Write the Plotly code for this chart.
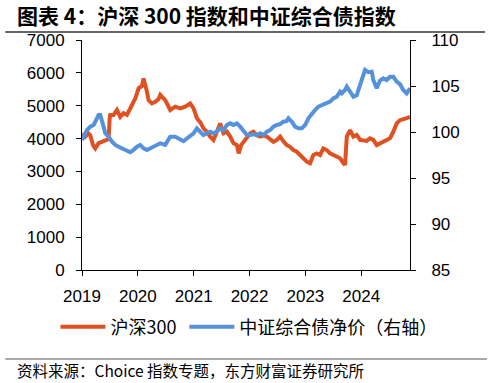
import plotly.graph_objects as go

# ---- data (x in decimal years) ----
csi300_t = [0.000, 0.059, 0.113, 0.148, 0.197, 0.238, 0.297, 0.358, 0.417, 0.476, 0.495, 0.506,
            0.565, 0.626, 0.685, 0.744, 0.805, 0.864, 0.923, 0.954, 1.013, 1.073, 1.102, 1.132,
            1.163, 1.191, 1.252, 1.311, 1.370, 1.401, 1.490, 1.580, 1.669, 1.759, 1.848, 1.938,
            1.997, 2.057, 2.116, 2.175, 2.236, 2.295, 2.354, 2.415, 2.474, 2.533, 2.594, 2.653,
            2.712, 2.773, 2.805, 2.850, 2.891, 2.952, 3.011, 3.070, 3.131, 3.190, 3.249, 3.310,
            3.369, 3.428, 3.488, 3.547, 3.606, 3.667, 3.726, 3.785, 3.846, 3.905, 3.964, 4.025,
            4.084, 4.143, 4.204, 4.263, 4.322, 4.383, 4.442, 4.501, 4.562, 4.621, 4.680, 4.710,
            4.741, 4.800, 4.859, 4.919, 4.979, 5.038, 5.098, 5.157, 5.216, 5.277, 5.336, 5.395,
            5.456, 5.515, 5.574, 5.635, 5.694, 5.753, 5.814, 5.873]
csi300_v = [4150, 4060, 4160, 4100, 3800, 3700, 3860, 3900, 3960, 3980, 4600, 4720,
            4720, 4870, 4660, 4770, 4720, 4920, 5070, 5220, 5530, 5600, 5830, 5680,
            5430, 5170, 5070, 5120, 5200, 5330, 5170, 4870, 4970, 4920, 4970, 5070,
            4920, 4620, 4500, 4310, 4210, 4060, 3960, 4210, 4460, 4160, 4210, 4060,
            3860, 3800, 3550, 3800, 3900, 4010, 4160, 4210, 4100, 4060, 4100, 4060,
            3960, 3900, 3960, 4060, 3920, 3800, 3750, 3650, 3600, 3500, 3400, 3300,
            3250, 3500, 3550, 3500, 3700, 3650, 3550, 3500, 3450, 3400, 3250, 3200,
            4060, 4260, 4060, 4110, 3960, 3930, 3930, 4010, 3960, 3800, 3850, 3900,
            3960, 4010, 4210, 4460, 4560, 4580, 4620, 4660]

bond_t = [0.000, 0.029, 0.089, 0.148, 0.208, 0.268, 0.297, 0.327, 0.358, 0.386, 0.417, 0.476,
          0.537, 0.596, 0.655, 0.716, 0.775, 0.864, 0.923, 0.984, 1.043, 1.102, 1.163, 1.222,
          1.281, 1.342, 1.401, 1.490, 1.580, 1.669, 1.759, 1.818, 1.878, 1.997, 2.057, 2.116,
          2.175, 2.236, 2.295, 2.354, 2.415, 2.474, 2.533, 2.594, 2.653, 2.712, 2.773, 2.833,
          2.891, 2.952, 3.011, 3.070, 3.131, 3.190, 3.249, 3.310, 3.369, 3.428, 3.488, 3.547,
          3.606, 3.667, 3.696, 3.757, 3.816, 3.875, 3.936, 3.995, 4.054, 4.114, 4.173, 4.233,
          4.293, 4.352, 4.442, 4.501, 4.562, 4.621, 4.651, 4.710, 4.741, 4.800, 4.859, 4.919,
          4.979, 5.038, 5.068, 5.127, 5.188, 5.216, 5.277, 5.336, 5.395, 5.456, 5.515, 5.574,
          5.635, 5.694, 5.753, 5.814, 5.873]
bond_v = [99.13, 99.49, 100.20, 100.58, 100.76, 101.49, 101.85, 101.85, 101.30, 100.58, 99.86, 99.49,
          98.95, 98.59, 98.40, 98.22, 98.04, 97.80, 98.04, 98.40, 98.59, 98.22, 98.04, 98.22,
          98.40, 98.59, 98.77, 98.60, 99.49, 99.49, 99.13, 99.00, 99.30, 99.86, 100.40, 100.10,
          99.67, 99.86, 100.04, 99.86, 100.04, 100.40, 100.20, 100.76, 100.94, 100.76, 100.94, 100.58,
          100.20, 99.67, 99.67, 99.76, 99.67, 99.86, 99.67, 100.04, 100.20, 100.58, 100.76, 100.85,
          101.12, 101.20, 101.49, 101.12, 100.58, 100.40, 100.40, 100.76, 101.49, 102.03, 102.39, 102.75,
          102.93, 103.10, 103.30, 103.66, 103.84, 104.38, 104.20, 104.57, 104.93, 104.40, 103.84, 104.00,
          105.10, 106.00, 106.74, 106.50, 106.55, 105.65, 104.75, 105.60, 105.83, 105.65, 106.00, 106.00,
          105.47, 105.20, 104.57, 104.20, 104.75]

start_year = 2019
year_ticks = [2019, 2020, 2021, 2022, 2023, 2024]
year_labels = ["2019", "2020", "2021", "2022", "2023", "2024"]
left_ticks = [0, 1000, 2000, 3000, 4000, 5000, 6000, 7000]
right_ticks = [85, 90, 95, 100, 105, 110]

RED = "#DF5120"
BLUE = "#5592DB"
FONT = "Liberation Sans, Arial, Noto Sans CJK SC, sans-serif"
CJK = "Noto Sans CJK SC, Liberation Sans, sans-serif"

fig = go.Figure()
fig.add_trace(go.Scatter(x=[start_year + t for t in csi300_t], y=csi300_v, mode="lines",
                         name="沪深300", legend="legend", line=dict(color=RED, width=4)))
fig.add_trace(go.Scatter(x=[start_year + t for t in bond_t], y=bond_v, mode="lines",
                         name="中证综合债净价（右轴）", yaxis="y2", legend="legend2",
                         line=dict(color=BLUE, width=4)))

axis_common = dict(showgrid=False, zeroline=False, showline=True, linecolor="black", linewidth=1,
                   ticks="outside", ticklen=5, tickcolor="black", tickwidth=1,
                   tickfont=dict(family=FONT, size=17, color="black"), automargin=False)

leg_common = dict(orientation="h", yanchor="middle", y=-0.248, xanchor="left",
                  font=dict(family=CJK, size=18, color="black"), itemwidth=45,
                  bgcolor="rgba(0,0,0,0)", borderwidth=0)

fig.update_layout(
    width=492, height=383,
    margin=dict(l=82, r=82, t=40, b=113, autoexpand=False),
    paper_bgcolor="white", plot_bgcolor="white",
    title=dict(text="<b>图表 4：沪深 300 指数和中证综合债指数</b>", xref="container", yref="container",
               x=17 / 492, xanchor="left", y=1 - 17 / 383, yanchor="middle",
               font=dict(family=CJK, size=21, color="black")),
    showlegend=True,
    legend=dict(x=-0.081, **leg_common),
    legend2=dict(x=0.312, **leg_common),
    xaxis=dict(range=[2019, 2019 + 5.873], tickvals=year_ticks, ticktext=year_labels,
               ticklabelstandoff=6, **axis_common),
    yaxis=dict(range=[0, 7000], tickvals=left_ticks, ticklabelstandoff=8, **axis_common),
    yaxis2=dict(range=[85, 110], tickvals=right_ticks, overlaying="y", side="right",
                ticklabelstandoff=12, **axis_common),
)

# title rule
fig.add_shape(type="line", xref="paper", yref="paper", x0=-0.234, x1=1.229, y0=1.035, y1=1.035,
              line=dict(color="#333333", width=1.5))
# source
fig.add_shape(type="line", xref="paper", yref="paper", x0=-0.234, x1=1.235, y0=-0.387, y1=-0.387,
              line=dict(color="#555555", width=1.2))
fig.add_annotation(xref="paper", yref="paper", x=-0.205, y=-0.435, xanchor="left", yanchor="middle",
                   text="资料来源：Choice 指数专题，东方财富证券研究所", showarrow=False,
                   font=dict(family=CJK, size=15.5, color="black"))

fig.write_html("out.html", config={"displayModeBar": False},
               post_script="document.body.style.margin='0px';")
